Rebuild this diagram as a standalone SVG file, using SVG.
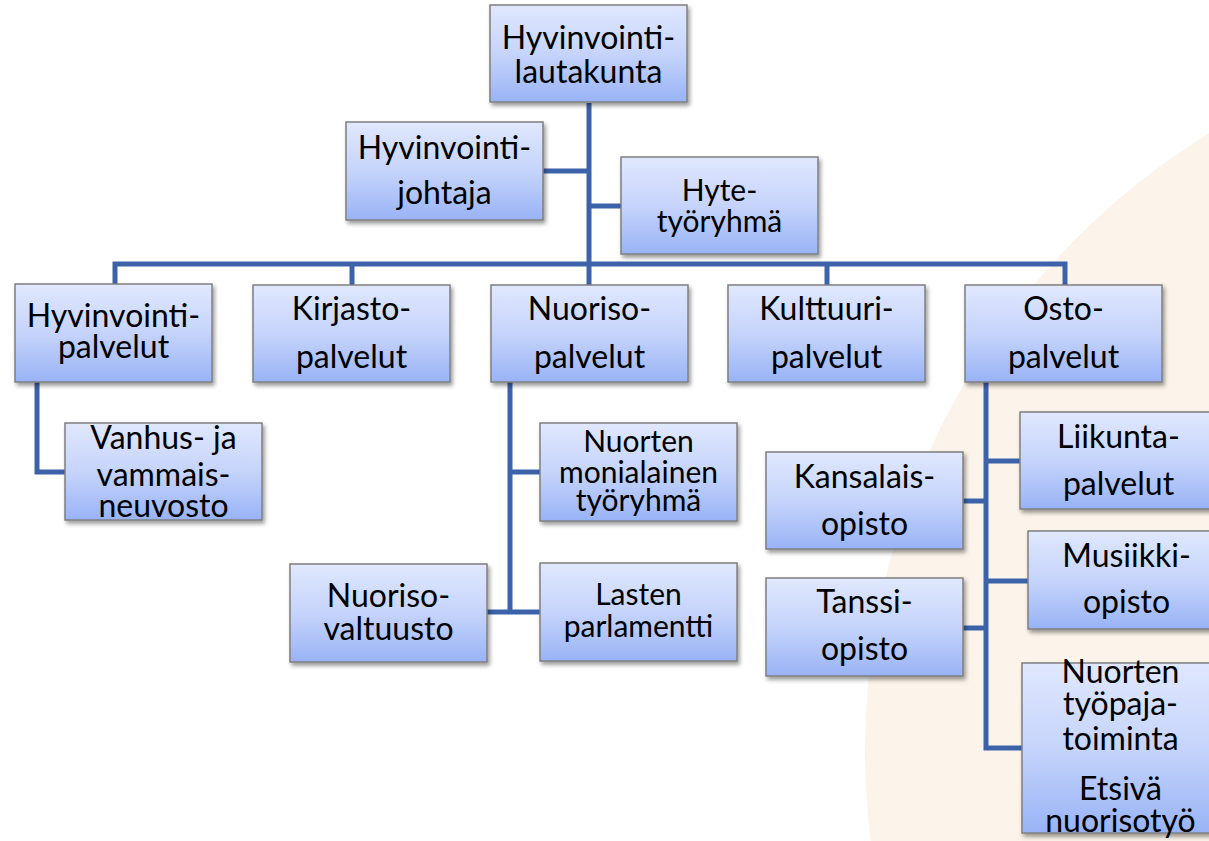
<svg xmlns="http://www.w3.org/2000/svg" width="1209" height="841" viewBox="0 0 1209 841">
<defs>
<linearGradient id="g" x1="0" y1="0" x2="0" y2="1">
<stop offset="0" stop-color="#E0E8FE"/>
<stop offset="0.5" stop-color="#C6D4FB"/>
<stop offset="1" stop-color="#98B3F6"/>
</linearGradient>
<filter id="sh" x="-10%" y="-10%" width="130%" height="130%">
<feDropShadow dx="2" dy="3" stdDeviation="2" flood-color="#000" flood-opacity="0.4"/>
</filter>
<style>
.box{fill:url(#g);stroke:#7F7F7F;stroke-width:1.5;filter:url(#sh)}
.t{font-family:Lato,"Carlito","Liberation Sans",sans-serif;font-size:32px;fill:#000;text-anchor:middle}
.s{font-size:30px}
.c{fill:none;stroke:#3C62AA;stroke-width:5;stroke-linejoin:miter}
</style>
</defs>
<rect width="1209" height="841" fill="#FFFFFF"/>
<circle cx="1590" cy="750" r="725" fill="#FCF4EA"/>
<g id="connectors">
<path class="c" d="M589 103 V285"/>
<path class="c" d="M543 171 H589"/>
<path class="c" d="M589 206 H621"/>
<path class="c" d="M115 285 V264 H1065 V285"/>
<path class="c" d="M352 264 V285"/>
<path class="c" d="M827 264 V285"/>
<path class="c" d="M37 382 V472 H65"/>
<path class="c" d="M510 382 V612"/>
<path class="c" d="M510 472 H540"/>
<path class="c" d="M487 612 H540"/>
<path class="c" d="M986 382 V748 H1022"/>
<path class="c" d="M986 461 H1020"/>
<path class="c" d="M963 501 H986"/>
<path class="c" d="M986 581 H1028"/>
<path class="c" d="M963 628 H986"/>
</g>
<g id="n-lautakunta"><rect class="box" x="490" y="5" width="197" height="97"/><text class="t" x="588.5" y="49">Hyvinvointi-</text><text class="t" x="588.5" y="83">lautakunta</text></g>
<g id="n-johtaja"><rect class="box" x="346" y="122" width="197" height="98"/><text class="t" x="444.5" y="159">Hyvinvointi-</text><text class="t" x="444.5" y="204">johtaja</text></g>
<g id="n-hyte"><rect class="box" x="621" y="157" width="197" height="97"/><text class="t s" x="719.5" y="201">Hyte-</text><text class="t s" x="719.5" y="232">työryhmä</text></g>
<g id="n-hyvinvointipalvelut"><rect class="box" x="15" y="284" width="197" height="98"/><text class="t" x="113.5" y="327">Hyvinvointi-</text><text class="t" x="113.5" y="358">palvelut</text></g>
<g id="n-kirjasto"><rect class="box" x="253" y="285" width="197" height="97"/><text class="t" x="351.5" y="320">Kirjasto-</text><text class="t" x="351.5" y="368">palvelut</text></g>
<g id="n-nuoriso"><rect class="box" x="491" y="285" width="197" height="97"/><text class="t" x="589.5" y="320">Nuoriso-</text><text class="t" x="589.5" y="368">palvelut</text></g>
<g id="n-kulttuuri"><rect class="box" x="728" y="285" width="197" height="97"/><text class="t" x="826.5" y="320">Kulttuuri-</text><text class="t" x="826.5" y="368">palvelut</text></g>
<g id="n-osto"><rect class="box" x="965" y="285" width="197" height="97"/><text class="t" x="1063.5" y="320">Osto-</text><text class="t" x="1063.5" y="368">palvelut</text></g>
<g id="n-vanhus"><rect class="box" x="65" y="423" width="197" height="97"/><text class="t" x="163.5" y="449">Vanhus- ja</text><text class="t" x="163.5" y="486">vammais-</text><text class="t" x="163.5" y="517">neuvosto</text></g>
<g id="n-monialainen"><rect class="box" x="540" y="423" width="197" height="98"/><text class="t s" x="638.5" y="452">Nuorten</text><text class="t s" x="638.5" y="483">monialainen</text><text class="t s" x="638.5" y="511">työryhmä</text></g>
<g id="n-nuorisovaltuusto"><rect class="box" x="290" y="564" width="197" height="98"/><text class="t" x="388.5" y="607">Nuoriso-</text><text class="t" x="388.5" y="640">valtuusto</text></g>
<g id="n-lasten"><rect class="box" x="540" y="563" width="197" height="98"/><text class="t s" x="638.5" y="605">Lasten</text><text class="t s" x="638.5" y="637">parlamentti</text></g>
<g id="n-kansalais"><rect class="box" x="766" y="452" width="197" height="97"/><text class="t" x="864.5" y="488">Kansalais-</text><text class="t" x="864.5" y="535">opisto</text></g>
<g id="n-tanssi"><rect class="box" x="766" y="578" width="197" height="98"/><text class="t" x="864.5" y="613">Tanssi-</text><text class="t" x="864.5" y="660">opisto</text></g>
<g id="n-liikunta"><rect class="box" x="1020" y="412" width="197" height="97"/><text class="t" x="1118.5" y="448">Liikunta-</text><text class="t" x="1118.5" y="495">palvelut</text></g>
<g id="n-musiikki"><rect class="box" x="1028" y="531" width="197" height="98"/><text class="t" x="1126.5" y="567">Musiikki-</text><text class="t" x="1126.5" y="613">opisto</text></g>
<g id="n-tyopaja"><rect class="box" x="1022" y="663" width="197" height="170"/><text class="t" x="1120.5" y="683">Nuorten</text><text class="t" x="1120.5" y="715">työpaja-</text><text class="t" x="1120.5" y="750">toiminta</text><text class="t" x="1120.5" y="800">Etsivä</text><text class="t" x="1120.5" y="832">nuorisotyö</text></g>
</svg>
